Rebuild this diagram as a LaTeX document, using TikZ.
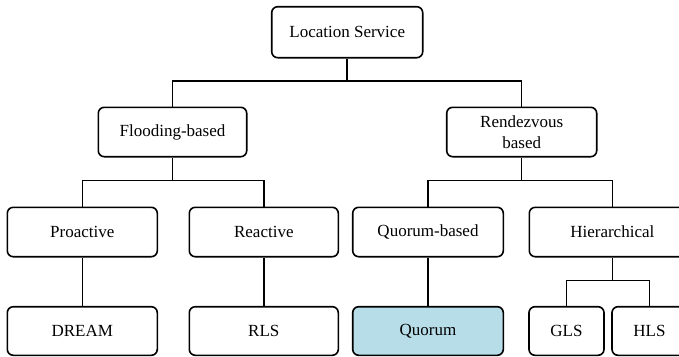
\documentclass[tikz,border=0pt]{standalone}
\usepackage{fontspec}
\setmainfont{Liberation Serif}
\definecolor{boxline}{RGB}{0,0,0}
\definecolor{quorumfill}{RGB}{183,221,232}
\begin{document}
\begin{tikzpicture}[x=1pt,y=-1pt,
  box/.style={draw=boxline, line width=1.6pt, rounded corners=6pt, fill=white,
    inner sep=0pt, align=center, minimum height=49.4pt,
    font=\fontsize{17}{21}\selectfont},
  wide/.style={box, minimum width=150pt},
  leaf/.style={box, minimum height=48.6pt},
  link/.style={draw=boxline, line width=1.5pt}]
\useasboundingbox (0,0) rectangle (679,356);
\clip (0,0) rectangle (679,356);

% root
\node[wide, minimum width=151pt, minimum height=51pt] (loc) at (347.2,32.2) {Location Service};

% first level
\node[box, minimum width=148.4pt] (flood) at (172.5,132) {Flooding-based};
\node[wide] (rend) at (521.7,132) {Rendezvous\\based};

% second level
\node[wide] (pro) at (82.3,232) {Proactive};
\node[box, minimum width=149pt] (rea) at (263.8,232) {Reactive};
\node[box, minimum width=150.6pt] (qb) at (428,232) {Quorum-based};
\node[box, minimum width=166pt] (hier) at (612.3,232) {Hierarchical};

% leaves
\node[leaf, minimum width=150pt] (dream) at (82.3,331) {DREAM};
\node[leaf, minimum width=149pt] (rls) at (263.8,331) {RLS};
\node[leaf, minimum width=150.6pt, fill=quorumfill] (quorum) at (428,331) {Quorum};
\node[leaf, minimum width=75pt] (gls) at (566.5,331) {GLS};
\node[leaf, minimum width=75pt] (hls) at (649.5,331) {HLS};

% junction points of the elbow connectors
\coordinate (j1) at (347.2,81);
\coordinate (j2) at (172.5,180.7);
\coordinate (j3) at (521.7,180.7);
\coordinate (j4) at (612.3,280.7);

\draw[link] (loc.south) -- (j1);
\draw[link] (flood.north) |- (j1) -| (rend.north);

\draw[link] (flood.south) -- (j2);
\draw[link] (pro.north) |- (j2) -| (rea.north);

\draw[link] (rend.south) -- (j3);
\draw[link] (qb.north) |- (j3) -| (hier.north);

\draw[link] (pro.south) -- (dream.north);
\draw[link] (rea.south) -- (rls.north);
\draw[link] (qb.south) -- (quorum.north);

\draw[link] (hier.south) -- (j4);
\draw[link] (gls.north) |- (j4) -| (hls.north);
\end{tikzpicture}
\end{document}
